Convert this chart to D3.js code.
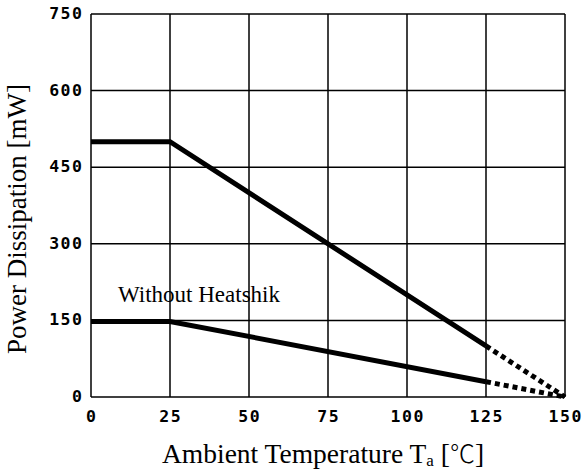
<!DOCTYPE html>
<html><head><meta charset="utf-8">
<script src="https://cdn.jsdelivr.net/npm/d3@7"></script>
<style>body{margin:0;background:#fff}</style>
</head><body>
<svg id="c" width="585" height="470"></svg>
<script>
const xTicks = [0, 25, 50, 75, 100, 125, 150];
const yTicks = [0, 150, 300, 450, 600, 750];
const withTemp = [0, 25, 125];
const withPower = [500, 500, 100];
const withDotTemp = [125, 150];
const withDotPower = [100, 0];
const withoutTemp = [0, 25, 125];
const withoutPower = [148, 148, 30];
const withoutDotTemp = [125, 150];
const withoutDotPower = [30, 0];

const svg = d3.select("#c");
const x = d3.scaleLinear().domain([0, 150]).range([91, 565]);
const y = d3.scaleLinear().domain([0, 750]).range([397, 14]);

// grid
const g = svg.append("g");
g.selectAll("line.v").data(xTicks).join("line")
  .attr("x1", d => x(d)).attr("x2", d => x(d)).attr("y1", y(0)).attr("y2", y(750))
  .attr("stroke", "#000").attr("stroke-width", 1.5);
g.selectAll("line.h").data(yTicks).join("line")
  .attr("y1", d => y(d)).attr("y2", d => y(d)).attr("x1", x(0)).attr("x2", x(150))
  .attr("stroke", "#000").attr("stroke-width", 1.5);

// tick labels
const tf = "'DejaVu Sans Mono', monospace";
svg.append("g").selectAll("text").data(yTicks).join("text")
  .attr("x", 83.5).attr("y", d => y(d) + 5)
  .attr("text-anchor", "end").attr("font-family", tf).attr("font-weight", "bold")
  .attr("letter-spacing", 1.5)
  .attr("font-size", 16.5).text(d => d);
svg.append("g").selectAll("text").data(xTicks).join("text")
  .attr("x", d => x(d) + 0.75).attr("y", 422)
  .attr("text-anchor", "middle").attr("font-family", tf).attr("font-weight", "bold")
  .attr("letter-spacing", 1.5)
  .attr("font-size", 16.5).text(d => d);

const line = d3.line().x(d => x(d[0])).y(d => y(d[1]));
function draw(t, p, dotted) {
  svg.append("path").datum(t.map((v, i) => [v, p[i]]))
    .attr("d", line).attr("fill", "none").attr("stroke", "#000")
    .attr("stroke-width", 5)
    .attr("stroke-dasharray", dotted ? "5,4" : null);
}
draw(withTemp, withPower, false);
draw(withDotTemp, withDotPower, true);
draw(withoutTemp, withoutPower, false);
draw(withoutDotTemp, withoutDotPower, true);

const sf = "'Liberation Serif', 'Times New Roman', serif";
svg.append("text").attr("x", 118).attr("y", 302)
  .attr("font-family", sf).attr("font-size", 23).text("Without Heatshik");

svg.append("text").attr("transform", "translate(26,219) rotate(-90)")
  .attr("text-anchor", "middle").attr("font-family", sf).attr("font-size", 27)
  .text("Power Dissipation [mW]");

const xt = svg.append("text").attr("x", 162).attr("y", 463)
  .attr("font-family", sf).attr("font-size", 27.5);
xt.append("tspan").text("Ambient Temperature T");
xt.append("tspan").attr("font-size", 17).attr("dy", 3).text("a");
xt.append("tspan").attr("dy", -3).text(" [");
xt.append("tspan").attr("font-family", "'Noto Sans CJK JP', sans-serif").attr("font-size", 25).attr("font-weight", 300).text("℃");
xt.append("tspan").text("]");
</script>
</body></html>
